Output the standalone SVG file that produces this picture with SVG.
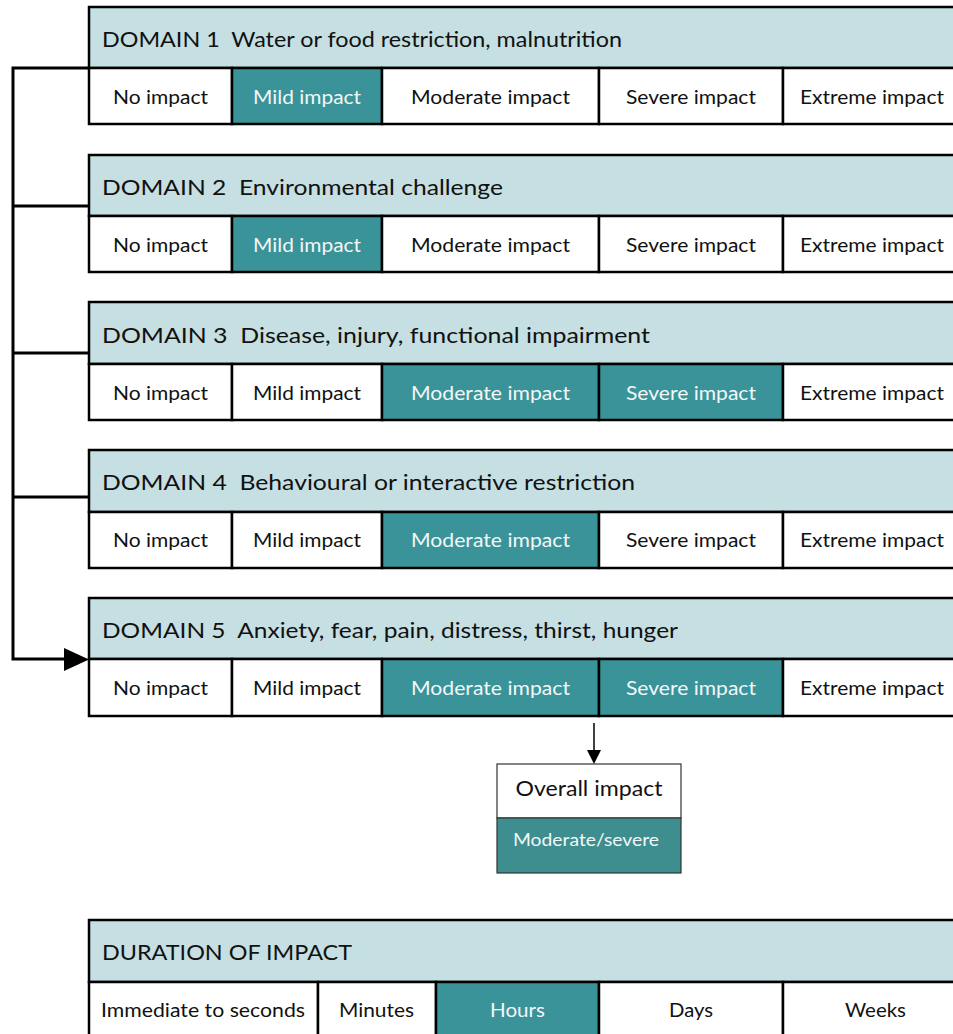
<svg xmlns="http://www.w3.org/2000/svg" width="953" height="1034" viewBox="0 0 953 1034">
  <style>
    .head { fill: #C5DFE2; stroke: #000; stroke-width: 2.5; }
    .cell { fill: #FFFFFF; stroke: #000; stroke-width: 2.5; }
    .on { fill: #3A9398; stroke: #000; stroke-width: 2.5; }
    .ht { font-family: Lato, "Open Sans", sans-serif; font-size: 22px; fill: #111; }
    .ct { font-family: Lato, "Open Sans", sans-serif; font-size: 18.5px; fill: #111; text-anchor: middle; }
    .ctw { font-family: Lato, "Open Sans", sans-serif; font-size: 18.5px; fill: #F2F8F8; text-anchor: middle; }
    .link { fill: none; stroke: #000; stroke-width: 3; }
  </style>

  <!-- Connectors from each domain into Domain 5, and down to the overall box -->
  <g id="connectors">
    <path class="link" d="M89,68 H13 V659 H65"/>
    <line class="link" x1="13" y1="206" x2="89" y2="206"/>
    <line class="link" x1="13" y1="353" x2="89" y2="353"/>
    <line class="link" x1="13" y1="497" x2="89" y2="497"/>
    <path d="M64,648 L89,659.5 L64,671 Z" fill="#000"/>
    <line x1="594" y1="723" x2="594" y2="752" stroke="#000" stroke-width="1.5"/>
    <path d="M587,750 L594,764 L601,750 Z" fill="#000"/>
  </g>

  <!-- Domain 1 -->
  <g id="domain1">
    <rect class="head" x="89" y="7" width="880" height="61"/>
    <rect class="cell" x="89" y="68" width="143" height="56"/>
    <rect class="on" x="232" y="68" width="150" height="56"/>
    <rect class="cell" x="382" y="68" width="217" height="56"/>
    <rect class="cell" x="599" y="68" width="184" height="56"/>
    <rect class="cell" x="783" y="68" width="186" height="56"/>
    <text class="ht" x="102" y="47" textLength="520" lengthAdjust="spacingAndGlyphs">DOMAIN 1&#160; Water or food restriction, malnutrition</text>
    <text class="ct" x="160.5" y="104" textLength="95" lengthAdjust="spacingAndGlyphs">No impact</text>
    <text class="ctw" x="307" y="104" textLength="108" lengthAdjust="spacingAndGlyphs">Mild impact</text>
    <text class="ct" x="490.5" y="104" textLength="159" lengthAdjust="spacingAndGlyphs">Moderate impact</text>
    <text class="ct" x="691" y="104" textLength="130" lengthAdjust="spacingAndGlyphs">Severe impact</text>
    <text class="ct" x="872" y="104" textLength="144" lengthAdjust="spacingAndGlyphs">Extreme impact</text>
  </g>

  <!-- Domain 2 -->
  <g id="domain2">
    <rect class="head" x="89" y="155" width="880" height="61"/>
    <rect class="cell" x="89" y="216" width="143" height="56"/>
    <rect class="on" x="232" y="216" width="150" height="56"/>
    <rect class="cell" x="382" y="216" width="217" height="56"/>
    <rect class="cell" x="599" y="216" width="184" height="56"/>
    <rect class="cell" x="783" y="216" width="186" height="56"/>
    <text class="ht" x="102" y="195" textLength="401" lengthAdjust="spacingAndGlyphs">DOMAIN 2&#160; Environmental challenge</text>
    <text class="ct" x="160.5" y="252" textLength="95" lengthAdjust="spacingAndGlyphs">No impact</text>
    <text class="ctw" x="307" y="252" textLength="108" lengthAdjust="spacingAndGlyphs">Mild impact</text>
    <text class="ct" x="490.5" y="252" textLength="159" lengthAdjust="spacingAndGlyphs">Moderate impact</text>
    <text class="ct" x="691" y="252" textLength="130" lengthAdjust="spacingAndGlyphs">Severe impact</text>
    <text class="ct" x="872" y="252" textLength="144" lengthAdjust="spacingAndGlyphs">Extreme impact</text>
  </g>

  <!-- Domain 3 -->
  <g id="domain3">
    <rect class="head" x="89" y="302" width="880" height="62"/>
    <rect class="cell" x="89" y="364" width="143" height="56"/>
    <rect class="cell" x="232" y="364" width="150" height="56"/>
    <rect class="on" x="382" y="364" width="217" height="56"/>
    <rect class="on" x="599" y="364" width="184" height="56"/>
    <rect class="cell" x="783" y="364" width="186" height="56"/>
    <text class="ht" x="102" y="343" textLength="548" lengthAdjust="spacingAndGlyphs">DOMAIN 3&#160; Disease, injury, functional impairment</text>
    <text class="ct" x="160.5" y="400" textLength="95" lengthAdjust="spacingAndGlyphs">No impact</text>
    <text class="ct" x="307" y="400" textLength="108" lengthAdjust="spacingAndGlyphs">Mild impact</text>
    <text class="ctw" x="490.5" y="400" textLength="159" lengthAdjust="spacingAndGlyphs">Moderate impact</text>
    <text class="ctw" x="691" y="400" textLength="130" lengthAdjust="spacingAndGlyphs">Severe impact</text>
    <text class="ct" x="872" y="400" textLength="144" lengthAdjust="spacingAndGlyphs">Extreme impact</text>
  </g>

  <!-- Domain 4 -->
  <g id="domain4">
    <rect class="head" x="89" y="450" width="880" height="62"/>
    <rect class="cell" x="89" y="512" width="143" height="56"/>
    <rect class="cell" x="232" y="512" width="150" height="56"/>
    <rect class="on" x="382" y="512" width="217" height="56"/>
    <rect class="cell" x="599" y="512" width="184" height="56"/>
    <rect class="cell" x="783" y="512" width="186" height="56"/>
    <text class="ht" x="102" y="490" textLength="533" lengthAdjust="spacingAndGlyphs">DOMAIN 4&#160; Behavioural or interactive restriction</text>
    <text class="ct" x="160.5" y="547" textLength="95" lengthAdjust="spacingAndGlyphs">No impact</text>
    <text class="ct" x="307" y="547" textLength="108" lengthAdjust="spacingAndGlyphs">Mild impact</text>
    <text class="ctw" x="490.5" y="547" textLength="159" lengthAdjust="spacingAndGlyphs">Moderate impact</text>
    <text class="ct" x="691" y="547" textLength="130" lengthAdjust="spacingAndGlyphs">Severe impact</text>
    <text class="ct" x="872" y="547" textLength="144" lengthAdjust="spacingAndGlyphs">Extreme impact</text>
  </g>

  <!-- Domain 5 -->
  <g id="domain5">
    <rect class="head" x="89" y="598" width="880" height="61"/>
    <rect class="cell" x="89" y="659" width="143" height="57"/>
    <rect class="cell" x="232" y="659" width="150" height="57"/>
    <rect class="on" x="382" y="659" width="217" height="57"/>
    <rect class="on" x="599" y="659" width="184" height="57"/>
    <rect class="cell" x="783" y="659" width="186" height="57"/>
    <text class="ht" x="102" y="638" textLength="576" lengthAdjust="spacingAndGlyphs">DOMAIN 5&#160; Anxiety, fear, pain, distress, thirst, hunger</text>
    <text class="ct" x="160.5" y="695" textLength="95" lengthAdjust="spacingAndGlyphs">No impact</text>
    <text class="ct" x="307" y="695" textLength="108" lengthAdjust="spacingAndGlyphs">Mild impact</text>
    <text class="ctw" x="490.5" y="695" textLength="159" lengthAdjust="spacingAndGlyphs">Moderate impact</text>
    <text class="ctw" x="691" y="695" textLength="130" lengthAdjust="spacingAndGlyphs">Severe impact</text>
    <text class="ct" x="872" y="695" textLength="144" lengthAdjust="spacingAndGlyphs">Extreme impact</text>
  </g>

  <!-- Overall impact -->
  <g id="overall">
    <rect x="497" y="764" width="184" height="54" fill="#FFFFFF" stroke="#333" stroke-width="1.2"/>
    <rect x="497" y="818" width="184" height="55" fill="#3E8E90" stroke="#333" stroke-width="1.2"/>
    <text x="589" y="796" font-family="Lato, 'Open Sans', sans-serif" font-size="21" fill="#111" text-anchor="middle" textLength="147" lengthAdjust="spacingAndGlyphs">Overall impact</text>
    <text x="586" y="846" font-family="Lato, 'Open Sans', sans-serif" font-size="17" fill="#F2F8F8" text-anchor="middle" textLength="146" lengthAdjust="spacingAndGlyphs">Moderate/severe</text>
  </g>

  <!-- Duration of impact -->
  <g id="duration">
    <rect class="head" x="89" y="920" width="880" height="62"/>
    <rect class="cell" x="89" y="982" width="229" height="70"/>
    <rect class="cell" x="318" y="982" width="118" height="70"/>
    <rect class="on" x="436" y="982" width="163" height="70"/>
    <rect class="cell" x="599" y="982" width="184" height="70"/>
    <rect class="cell" x="783" y="982" width="186" height="70"/>
    <text class="ht" x="102" y="960" textLength="250" lengthAdjust="spacingAndGlyphs">DURATION OF IMPACT</text>
    <text class="ct" x="203" y="1017" textLength="204" lengthAdjust="spacingAndGlyphs">Immediate to seconds</text>
    <text class="ct" x="376.5" y="1017" textLength="75" lengthAdjust="spacingAndGlyphs">Minutes</text>
    <text class="ctw" x="517.5" y="1017" textLength="55" lengthAdjust="spacingAndGlyphs">Hours</text>
    <text class="ct" x="691" y="1017" textLength="44" lengthAdjust="spacingAndGlyphs">Days</text>
    <text class="ct" x="875.5" y="1017" textLength="61" lengthAdjust="spacingAndGlyphs">Weeks</text>
  </g>
</svg>
